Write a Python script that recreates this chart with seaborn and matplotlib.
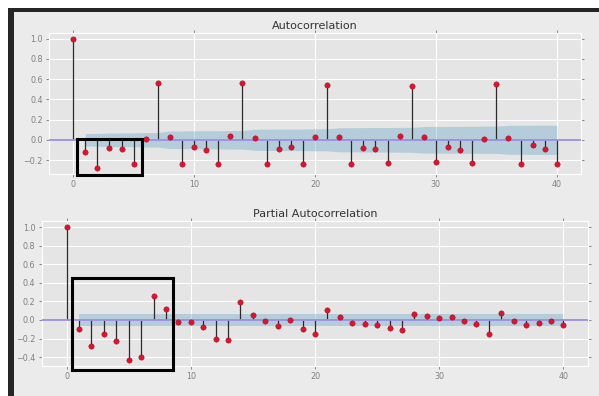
import numpy as np
import pandas as pd
import matplotlib
matplotlib.use("Agg")
import matplotlib.pyplot as plt
from matplotlib.patches import Rectangle
import seaborn as sns

# ---- data ----
lags = list(range(41))
acf_values = [1.0, -0.118, -0.276, -0.079, -0.095, -0.237, 0.007, 0.56, 0.023, -0.237,
              -0.069, -0.10, -0.237, 0.033, 0.56, 0.018, -0.237, -0.088, -0.069, -0.237,
              0.023, 0.543, 0.023, -0.237, -0.079, -0.088, -0.23, 0.04, 0.527, 0.03,
              -0.22, -0.072, -0.10, -0.23, 0.007, 0.55, 0.018, -0.237, -0.056, -0.088,
              -0.237]
pacf_values = [1.0, -0.10, -0.28, -0.154, -0.226, -0.43, -0.40, 0.26, 0.118, -0.02,
               -0.02, -0.075, -0.20, -0.22, 0.19, 0.057, -0.014, -0.068, -0.004, -0.093,
               -0.147, 0.111, 0.029, -0.032, -0.039, -0.05, -0.086, -0.104, 0.068, 0.039,
               0.022, 0.029, -0.014, -0.039, -0.147, 0.075, -0.014, -0.05, -0.032, -0.014,
               -0.057]
nobs = 1000  # sample size implied by the confidence band width
x_ticks = [0, 10, 20, 30, 40]
acf_yticks = [-0.2, 0.0, 0.2, 0.4, 0.6, 0.8, 1.0]
pacf_yticks = [-0.4, -0.2, 0.0, 0.2, 0.4, 0.6, 0.8, 1.0]
titles = ["Autocorrelation", "Partial Autocorrelation"]

acf_df = pd.DataFrame({"lag": lags, "value": acf_values})
pacf_df = pd.DataFrame({"lag": lags, "value": pacf_values})

# confidence bands (Bartlett for ACF, 1/sqrt(n) for PACF), as statsmodels computes them
acf_arr = np.array(acf_values)
var_acf = np.zeros(len(lags))
var_acf[1] = 1.0 / nobs
var_acf[2:] = (1 + 2 * np.cumsum(acf_arr[1:-1] ** 2)) / nobs
acf_band = 1.96 * np.sqrt(var_acf)
pacf_band = np.full(len(lags), 1.96 / np.sqrt(nobs))

# ---- style ----
sns.set_style("darkgrid", rc={
    "axes.facecolor": "#e5e5e5",
    "axes.edgecolor": "white",
    "grid.color": "white",
    "grid.linewidth": 0.8,
    "xtick.color": "#777777",
    "ytick.color": "#777777",
})
plt.rcParams["font.family"] = ["DejaVu Sans"]
plt.rcParams["axes.unicode_minus"] = True

W, H = 599, 396
fig = plt.figure(figsize=(W / 100, H / 100), dpi=100, facecolor="#ebebeb")

def px_axes(left, top, right, bottom):
    return fig.add_axes([left / W, 1 - bottom / H, (right - left) / W, (bottom - top) / H])

ax1 = px_axes(49, 32.7, 581, 173.7)
ax2 = px_axes(41.7, 220.7, 588.3, 366)

band_color = "#348ABD"
marker_color = "#dc1430"
zero_color = "#9c8ce0"

for ax, df, band, yticks, ylim, title in [
    (ax1, acf_df, acf_band, acf_yticks, (-0.335, 1.058), titles[0]),
    (ax2, pacf_df, pacf_band, pacf_yticks, (-0.495, 1.068), titles[1]),
]:
    ax.fill_between(df["lag"][1:], -band[1:], band[1:], color=band_color, alpha=0.27,
                    linewidth=0, zorder=1)
    ax.vlines(df["lag"], 0, df["value"], colors="#2b2b2b", linewidth=0.9, zorder=2)
    ax.axhline(0, color=zero_color, linewidth=1.3, zorder=3)
    sns.scatterplot(data=df, x="lag", y="value", ax=ax, color=marker_color, s=15,
                    edgecolor="#8a0a1c", linewidth=0.3, zorder=4, legend=False)
    ax.set_xlim(-2, 42)
    ax.set_ylim(*ylim)
    ax.set_xticks(x_ticks)
    ax.set_yticks(yticks)
    ax.set_yticklabels([f"{t:.1f}".replace("-", "\u2212") for t in yticks])
    ax.set_xlabel("")
    ax.set_ylabel("")
    ax.set_title(title, fontsize=8, color="#333333", pad=3)
    ax.tick_params(axis="both", which="both", direction="out", length=2.5, width=0.6,
                   labelsize=5.8, pad=2, top=True, right=True, left=True, bottom=True,
                   labelcolor="#808080")
    for sp in ax.spines.values():
        sp.set_color("white")
        sp.set_linewidth(0.8)

# ---- screenshot frame and highlight boxes ----
def fig_rect(left, top, right, bottom, **kw):
    r = Rectangle((left / W, 1 - bottom / H), (right - left) / W, (bottom - top) / H,
                  transform=fig.transFigure, **kw)
    fig.patches.append(r)

fig_rect(0, 0, 8, H, facecolor="white", edgecolor="none")
fig_rect(0, 0, W, 8, facecolor="white", edgecolor="none")
fig_rect(8, 8, 14, H, facecolor="#252525", edgecolor="none")
fig_rect(8, 8, W, 11.5, facecolor="#252525", edgecolor="none")

fig_rect(76.5, 139.5, 141.5, 175.5, facecolor="none", edgecolor="black", linewidth=2.2, zorder=10)
fig_rect(71.5, 278, 172.5, 369.5, facecolor="none", edgecolor="black", linewidth=2.2, zorder=10)

fig.savefig("out.png", dpi=100, facecolor=fig.get_facecolor())
